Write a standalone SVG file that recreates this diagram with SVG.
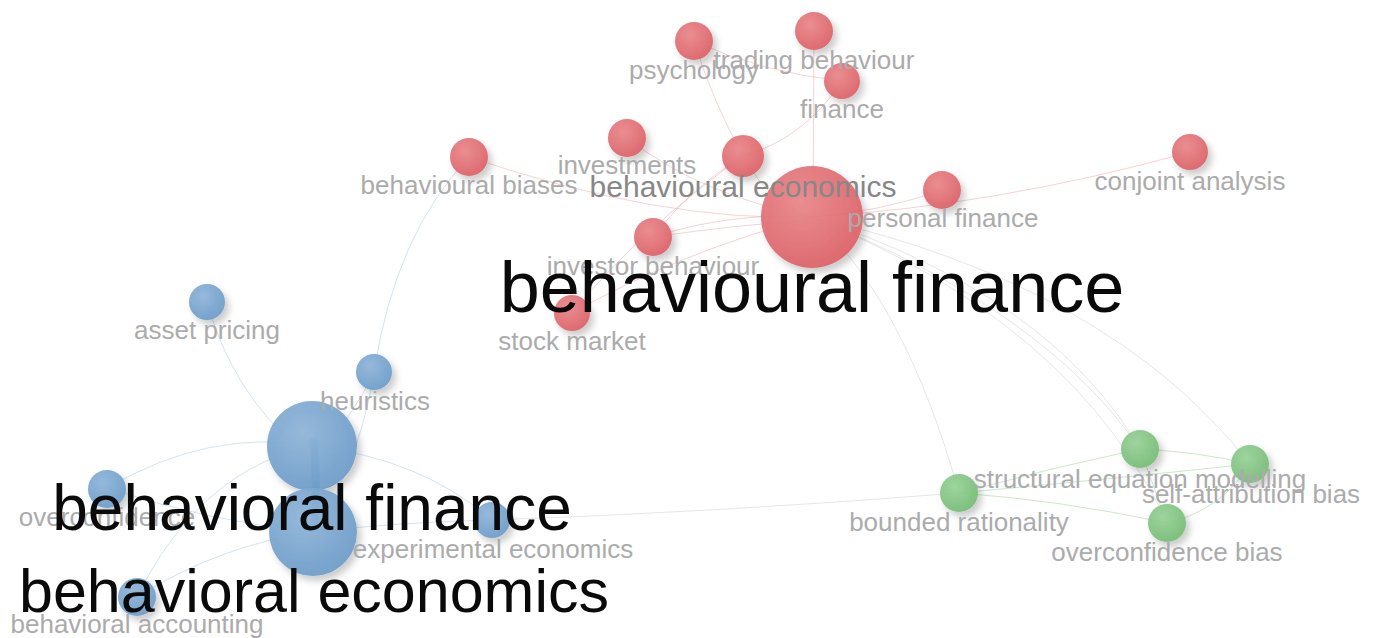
<svg xmlns="http://www.w3.org/2000/svg" width="1377" height="638" viewBox="0 0 1377 638">
<defs>
<style>
.e{fill:none;stroke-width:1}
.er{stroke:#e88a8c;stroke-opacity:0.38}
.eg{stroke:#bdbdbd;stroke-opacity:0.38}
.eb{stroke:#9ec0df;stroke-opacity:0.45}
.en{stroke:#9fd49f;stroke-opacity:0.55}
.nr{fill:url(#gr);filter:url(#sh)}
.nb{fill:url(#gb);filter:url(#sh)}
.ng{fill:url(#gg);filter:url(#sh)}
text{font-family:"Liberation Sans",Arial,sans-serif;text-anchor:middle}
.l{font-size:26px;fill:#ababab}
.lm{font-size:30px;fill:#878787}
.lb{fill:#0a0a0a}
</style>
<radialGradient id="gr" cx="0.4" cy="0.35" r="0.7">
<stop offset="0" stop-color="#ea8a8d" stop-opacity="0.95"/>
<stop offset="1" stop-color="#dc5f65" stop-opacity="0.92"/>
</radialGradient>
<radialGradient id="gb" cx="0.4" cy="0.35" r="0.7">
<stop offset="0" stop-color="#92b7da" stop-opacity="0.95"/>
<stop offset="1" stop-color="#6b9bc8" stop-opacity="0.92"/>
</radialGradient>
<radialGradient id="gg" cx="0.4" cy="0.35" r="0.7">
<stop offset="0" stop-color="#9bd39b" stop-opacity="0.95"/>
<stop offset="1" stop-color="#74bb74" stop-opacity="0.92"/>
</radialGradient>
<filter id="sh" x="-50%" y="-50%" width="200%" height="200%">
<feDropShadow dx="4" dy="5" stdDeviation="3.5" flood-color="#000" flood-opacity="0.22"/>
</filter>
</defs>
<rect width="1377" height="638" fill="#fff"/>
<g id="connectors">
<path class="e er" d="M469,157 Q660,222 812,217"/>
<path class="e er" d="M627,138 Q700,195 812,217"/>
<path class="e er" d="M653,237 Q730,212 812,217"/>
<path class="e er" d="M653,237 Q735,225 812,220"/>
<path class="e er" d="M814,31 L813,217"/>
<path class="e er" d="M743,156 Q770,205 812,217"/>
<path class="e er" d="M942,190 Q880,212 812,217"/>
<path class="e er" d="M812,217 Q1000,205 1190,152"/>
<path class="e er" d="M694,41 Q712,100 743,156"/>
<path class="e er" d="M694,41 Q760,72 842,81"/>
<path class="e er" d="M842,81 Q805,138 743,156"/>
<path class="e er" d="M572,313 Q640,230 743,156"/>
<path class="e er" d="M653,237 Q690,188 743,156"/>
<path class="e er" d="M572,313 Q680,252 812,217"/>
<path class="e eg" d="M812,217 Q905,300 959,493"/>
<path class="e eg" d="M812,217 Q1050,295 1140,449"/>
<path class="e eg" d="M812,217 Q1045,310 1140,449"/>
<path class="e eg" d="M812,217 Q1110,285 1250,464"/>
<path class="e eg" d="M812,217 Q1075,325 1167,523"/>
<path class="e eg" d="M492,520 Q720,512 959,493"/>
<path class="e eb" d="M469,157 Q395,235 374,372"/>
<path class="e eb" d="M207,302 Q232,392 300,450"/>
<path class="e eb" d="M374,372 Q352,420 320,446"/>
<path class="e eb" d="M374,372 Q362,450 322,520"/>
<path class="e eb" d="M107,488 Q210,428 312,446"/>
<path class="e eb" d="M107,488 Q210,522 313,532"/>
<path class="e eb" d="M137,597 Q200,470 312,446"/>
<path class="e eb" d="M137,597 Q220,545 313,532"/>
<path class="e eb" d="M312,446 Q420,458 492,520"/>
<path class="e eb" d="M313,532 Q400,522 492,520"/>
<path d="M313,438 Q318,480 314,528" fill="none" stroke="#4d86bd" stroke-opacity="0.75" stroke-width="8"/>
<path class="e en" d="M959,493 Q1050,468 1140,449"/>
<path class="e en" d="M959,493 Q1100,480 1250,464"/>
<path class="e en" d="M959,493 Q1060,500 1167,523"/>
<path class="e en" d="M1140,449 Q1200,452 1250,464"/>
<path class="e en" d="M1250,464 Q1222,510 1167,523"/>
<path class="e en" d="M1140,449 L1167,523"/>
</g>
<g id="n-behavioural-finance"><circle class="nr" cx="812" cy="217" r="51"/></g>
<g id="n-psychology"><circle class="nr" cx="694" cy="41" r="19"/></g>
<g id="n-trading-behaviour"><circle class="nr" cx="814" cy="31" r="19"/></g>
<g id="n-finance"><circle class="nr" cx="842" cy="81" r="18"/></g>
<g id="n-investments"><circle class="nr" cx="627" cy="138" r="19"/></g>
<g id="n-behavioural-economics"><circle class="nr" cx="743" cy="156" r="21"/></g>
<g id="n-behavioural-biases"><circle class="nr" cx="469" cy="157" r="19"/></g>
<g id="n-personal-finance"><circle class="nr" cx="942" cy="190" r="19"/></g>
<g id="n-conjoint-analysis"><circle class="nr" cx="1190" cy="152" r="18"/></g>
<g id="n-investor-behaviour"><circle class="nr" cx="653" cy="237" r="19"/></g>
<g id="n-stock-market"><circle class="nr" cx="572" cy="313" r="18"/></g>
<g id="n-behavioral-finance"><circle class="nb" cx="312" cy="446" r="45"/></g>
<g id="n-behavioral-economics"><circle class="nb" cx="313" cy="532" r="44"/></g>
<g id="n-asset-pricing"><circle class="nb" cx="207" cy="302" r="18"/></g>
<g id="n-heuristics"><circle class="nb" cx="374" cy="372" r="18"/></g>
<g id="n-overconfidence"><circle class="nb" cx="107" cy="489" r="19"/></g>
<g id="n-experimental-economics"><circle class="nb" cx="492" cy="520" r="18"/></g>
<g id="n-behavioral-accounting"><circle class="nb" cx="137" cy="597" r="19"/></g>
<g id="n-structural-equation-modelling"><circle class="ng" cx="1140" cy="449" r="19"/></g>
<g id="n-self-attribution-bias"><circle class="ng" cx="1250" cy="464" r="19"/></g>
<g id="n-bounded-rationality"><circle class="ng" cx="959" cy="493" r="19"/></g>
<g id="n-overconfidence-bias"><circle class="ng" cx="1167" cy="523" r="19"/></g>
<g id="labels">
<text class="l" x="694" y="79">psychology</text>
<text class="l" x="814" y="69">trading behaviour</text>
<text class="l" x="842" y="118">finance</text>
<text class="l" x="627" y="174">investments</text>
<text class="l" x="469" y="194">behavioural biases</text>
<text class="l" x="943" y="227">personal finance</text>
<text class="l" x="1190" y="190">conjoint analysis</text>
<text class="l" x="653" y="275">investor behaviour</text>
<text class="l" x="572" y="350">stock market</text>
<text class="l" x="207" y="339">asset pricing</text>
<text class="l" x="375" y="410">heuristics</text>
<text class="l" x="107" y="526">overconfidence</text>
<text class="l" x="493" y="558">experimental economics</text>
<text class="l" x="137" y="633">behavioral accounting</text>
<text class="l" x="1140" y="488">structural equation modelling</text>
<text class="l" x="1251" y="503">self-attribution bias</text>
<text class="l" x="959" y="531">bounded rationality</text>
<text class="l" x="1167" y="561">overconfidence bias</text>
<text class="lm" x="743" y="197">behavioural economics</text>
<text class="lb" x="812" y="312" font-size="72">behavioural finance</text>
<text class="lb" x="312" y="530" font-size="64">behavioral finance</text>
<text class="lb" x="314" y="612" font-size="61">behavioral economics</text>
</g>
</svg>
